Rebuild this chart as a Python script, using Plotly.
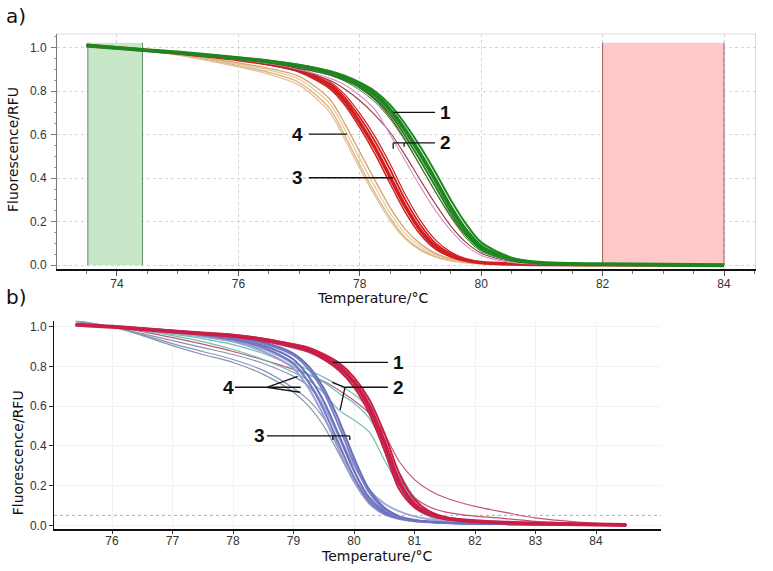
import plotly.graph_objects as go

# ---------------- Panel a data ----------------
T_A = [73.5, 74.4, 75.0, 76.0, 76.5, 77.0, 77.5, 77.75, 78.0, 78.25, 78.5, 78.75,
       79.0, 79.25, 79.5, 79.75, 80.0, 80.5, 81.0, 82.0, 84.0]

green_1 = [1.010, 0.990, 0.978, 0.952, 0.937, 0.917, 0.887, 0.863, 0.830, 0.785, 0.715, 0.620, 0.510, 0.390, 0.265, 0.160, 0.085, 0.028, 0.010, 0.004, 0.000]
green_2 = [1.010, 0.990, 0.979, 0.955, 0.940, 0.921, 0.893, 0.871, 0.840, 0.800, 0.737, 0.648, 0.543, 0.425, 0.300, 0.190, 0.105, 0.035, 0.012, 0.004, 0.000]
green_3 = [1.010, 0.990, 0.977, 0.950, 0.934, 0.913, 0.881, 0.855, 0.818, 0.768, 0.693, 0.593, 0.480, 0.360, 0.240, 0.140, 0.072, 0.024, 0.009, 0.004, 0.000]
green_4 = [1.010, 0.990, 0.977, 0.948, 0.931, 0.908, 0.874, 0.846, 0.805, 0.750, 0.672, 0.570, 0.455, 0.335, 0.220, 0.125, 0.063, 0.021, 0.008, 0.003, 0.000]

red_1 = [1.010, 0.990, 0.975, 0.945, 0.925, 0.895, 0.825, 0.755, 0.655, 0.540, 0.405, 0.270, 0.160, 0.085, 0.045, 0.022, 0.012, 0.005, 0.003, 0.002, 0.000]
red_2 = [1.010, 0.990, 0.976, 0.947, 0.928, 0.900, 0.836, 0.772, 0.680, 0.570, 0.440, 0.300, 0.185, 0.100, 0.052, 0.025, 0.013, 0.005, 0.003, 0.002, 0.000]
red_3 = [1.010, 0.990, 0.974, 0.943, 0.921, 0.888, 0.812, 0.738, 0.632, 0.512, 0.375, 0.243, 0.140, 0.073, 0.038, 0.019, 0.010, 0.004, 0.003, 0.002, 0.000]
red_4 = [1.010, 0.990, 0.976, 0.948, 0.930, 0.903, 0.845, 0.785, 0.698, 0.592, 0.465, 0.325, 0.205, 0.115, 0.060, 0.030, 0.015, 0.006, 0.003, 0.002, 0.000]

tan_1 = [1.010, 0.990, 0.970, 0.925, 0.897, 0.855, 0.745, 0.625, 0.490, 0.360, 0.240, 0.145, 0.085, 0.047, 0.026, 0.014, 0.008, 0.004, 0.002, 0.001, 0.000]
tan_2 = [1.010, 0.990, 0.968, 0.918, 0.887, 0.840, 0.722, 0.598, 0.462, 0.333, 0.218, 0.128, 0.073, 0.040, 0.022, 0.012, 0.007, 0.003, 0.002, 0.001, 0.000]
tan_3 = [1.010, 0.990, 0.972, 0.930, 0.905, 0.868, 0.765, 0.652, 0.520, 0.390, 0.265, 0.165, 0.098, 0.054, 0.030, 0.016, 0.009, 0.004, 0.002, 0.001, 0.000]
tan_4 = [1.010, 0.990, 0.966, 0.912, 0.878, 0.828, 0.705, 0.580, 0.445, 0.318, 0.205, 0.120, 0.068, 0.037, 0.020, 0.011, 0.006, 0.003, 0.002, 0.001, 0.000]

brown_1 = [1.010, 0.990, 0.977, 0.948, 0.930, 0.905, 0.875, 0.850, 0.815, 0.760, 0.680, 0.575, 0.455, 0.335, 0.225, 0.135, 0.072, 0.023, 0.008, 0.003, 0.000]
brown_2 = [1.010, 0.990, 0.976, 0.944, 0.925, 0.895, 0.850, 0.810, 0.757, 0.690, 0.610, 0.505, 0.390, 0.280, 0.180, 0.105, 0.055, 0.017, 0.006, 0.002, 0.000]
pink_1 = [1.010, 0.990, 0.976, 0.946, 0.927, 0.900, 0.860, 0.830, 0.780, 0.715, 0.600, 0.480, 0.360, 0.250, 0.160, 0.090, 0.045, 0.013, 0.005, 0.002, 0.000]

# ---------------- Panel b data ----------------
T_B = [75.4, 76.0, 76.5, 77.0, 77.5, 78.0, 78.5, 79.0, 79.25, 79.5, 79.75, 80.0,
       80.25, 80.5, 80.75, 81.0, 81.25, 81.5, 82.0, 82.5, 83.0, 84.0, 84.5]

crimson_1 = [1.010, 1.000, 0.988, 0.976, 0.966, 0.955, 0.935, 0.905, 0.885, 0.850, 0.800, 0.720, 0.600, 0.420, 0.215, 0.105, 0.058, 0.036, 0.020, 0.013, 0.009, 0.004, 0.002]
crimson_2 = [1.010, 1.000, 0.989, 0.978, 0.968, 0.958, 0.940, 0.912, 0.894, 0.862, 0.818, 0.745, 0.635, 0.465, 0.260, 0.130, 0.070, 0.042, 0.022, 0.014, 0.009, 0.004, 0.002]
crimson_3 = [1.010, 1.000, 0.987, 0.974, 0.963, 0.951, 0.930, 0.898, 0.876, 0.838, 0.782, 0.695, 0.565, 0.380, 0.180, 0.090, 0.050, 0.032, 0.018, 0.012, 0.008, 0.004, 0.002]
mauve_1 = [1.010, 1.000, 0.975, 0.945, 0.912, 0.875, 0.833, 0.785, 0.758, 0.725, 0.680, 0.628, 0.565, 0.460, 0.320, 0.230, 0.175, 0.140, 0.095, 0.065, 0.037, 0.010, 0.005]
mauve_2 = [1.010, 1.000, 0.986, 0.972, 0.960, 0.948, 0.926, 0.892, 0.870, 0.832, 0.778, 0.695, 0.575, 0.405, 0.240, 0.140, 0.092, 0.068, 0.046, 0.034, 0.020, 0.006, 0.003]

teal_1 = [1.010, 1.000, 0.985, 0.968, 0.950, 0.925, 0.885, 0.820, 0.782, 0.745, 0.705, 0.660, 0.585, 0.420, 0.265, 0.140, 0.060, 0.030, 0.015, 0.010, 0.007, 0.004, 0.002]
teal_2 = [1.010, 1.000, 0.980, 0.955, 0.925, 0.885, 0.835, 0.770, 0.730, 0.665, 0.580, 0.530, 0.470, 0.330, 0.195, 0.090, 0.042, 0.025, 0.013, 0.009, 0.006, 0.003, 0.002]
teal_3 = [1.010, 1.000, 0.983, 0.962, 0.940, 0.910, 0.865, 0.800, 0.760, 0.720, 0.665, 0.615, 0.540, 0.400, 0.240, 0.115, 0.050, 0.028, 0.014, 0.009, 0.006, 0.003, 0.002]

blue_1 = [1.010, 1.000, 0.990, 0.978, 0.962, 0.940, 0.905, 0.835, 0.750, 0.625, 0.455, 0.275, 0.140, 0.070, 0.038, 0.024, 0.017, 0.013, 0.008, 0.006, 0.004, 0.002, 0.001]
blue_2 = [1.010, 1.000, 0.991, 0.980, 0.965, 0.945, 0.915, 0.855, 0.785, 0.670, 0.500, 0.315, 0.165, 0.080, 0.042, 0.026, 0.018, 0.013, 0.008, 0.006, 0.004, 0.002, 0.001]
blue_3 = [1.010, 1.000, 0.989, 0.976, 0.958, 0.935, 0.895, 0.815, 0.720, 0.580, 0.410, 0.240, 0.120, 0.060, 0.034, 0.022, 0.016, 0.012, 0.008, 0.006, 0.004, 0.002, 0.001]
blue_4 = [1.010, 1.000, 0.988, 0.973, 0.954, 0.930, 0.890, 0.810, 0.720, 0.600, 0.450, 0.300, 0.180, 0.110, 0.070, 0.045, 0.030, 0.022, 0.014, 0.010, 0.007, 0.004, 0.002]
blue_5 = [1.010, 1.000, 0.987, 0.971, 0.950, 0.925, 0.875, 0.790, 0.690, 0.550, 0.380, 0.220, 0.110, 0.055, 0.032, 0.021, 0.015, 0.012, 0.008, 0.006, 0.004, 0.002, 0.001]
blue_6 = [1.010, 1.000, 0.991, 0.981, 0.967, 0.948, 0.922, 0.865, 0.800, 0.690, 0.530, 0.340, 0.180, 0.090, 0.045, 0.027, 0.019, 0.014, 0.009, 0.006, 0.004, 0.002, 0.001]

grey_1 = [1.030, 1.000, 0.965, 0.930, 0.895, 0.860, 0.815, 0.750, 0.700, 0.600, 0.440, 0.270, 0.140, 0.070, 0.038, 0.024, 0.017, 0.013, 0.008, 0.006, 0.004, 0.002, 0.001]
grey_2 = [1.025, 1.000, 0.960, 0.915, 0.875, 0.835, 0.780, 0.690, 0.630, 0.540, 0.400, 0.245, 0.130, 0.065, 0.035, 0.022, 0.016, 0.012, 0.008, 0.006, 0.004, 0.002, 0.001]
grey_3 = [1.030, 1.000, 0.955, 0.905, 0.860, 0.820, 0.760, 0.670, 0.600, 0.500, 0.360, 0.220, 0.115, 0.060, 0.032, 0.020, 0.015, 0.011, 0.007, 0.005, 0.004, 0.002, 0.001]

# tick labels
XTICKS_A = [74, 76, 78, 80, 82, 84]
XTICKS_B = [76, 77, 78, 79, 80, 81, 82, 83, 84]
YTICKS = [0.0, 0.2, 0.4, 0.6, 0.8, 1.0]

fig = go.Figure()


def add(x, y, color, width, xa, ya):
    fig.add_trace(go.Scatter(x=x, y=y, mode="lines", xaxis=xa, yaxis=ya,
                             line=dict(color=color, width=width, shape="spline", smoothing=0.8),
                             hoverinfo="skip", showlegend=False))


# panel a traces
for s, c in [(tan_4, "#e3c49a"), (tan_2, "#d9b27f"), (tan_1, "#e6c79e"), (tan_3, "#d4a46c")]:
    add(T_A, s, c, 1.3, "x", "y")
for s, w in [(red_3, 1.5), (red_1, 3.5), (red_2, 1.8), (red_4, 1.2)]:
    add(T_A, s, "#d11f1f", w, "x", "y")
add(T_A, brown_2, "#9a3b3b", 1.1, "x", "y")
add(T_A, pink_1, "#d58fd0", 1.1, "x", "y")
add(T_A, brown_1, "#7a3030", 1.1, "x", "y")
add(T_A, green_4, "#2e8b2e", 1.0, "x", "y")
for s, w in [(green_3, 2.0), (green_2, 2.0), (green_1, 4.0)]:
    add(T_A, s, "#1f861f", w, "x", "y")

# panel b traces
for s in [grey_3, grey_2, grey_1]:
    add(T_B, s, "#8794b2", 1.2, "x2", "y2")
add(T_B, mauve_1, "#c0587a", 1.2, "x2", "y2")
for s in [teal_2, teal_3, teal_1]:
    add(T_B, s, "#6fbfae", 1.2, "x2", "y2")
for s, c in [(blue_4, "#a3a8d8"), (blue_5, "#9a9fd4"), (blue_3, "#7378c2"),
             (blue_1, "#6b70bd"), (blue_2, "#7b80c6"), (blue_6, "#6a6fbb")]:
    add(T_B, s, c, 2.0, "x2", "y2")
add(T_B, mauve_2, "#c2507a", 1.2, "x2", "y2")
for s, w in [(crimson_3, 2.0), (crimson_2, 2.0), (crimson_1, 4.0)]:
    add(T_B, s, "#c81e48", w, "x2", "y2")

W, H = 773, 571
tickfont = dict(family="Liberation Sans, Arial, sans-serif", size=12, color="#333333")

fig.update_layout(
    width=W, height=H, margin=dict(l=0, r=0, t=0, b=0),
    paper_bgcolor="white", plot_bgcolor="white", showlegend=False,
    xaxis=dict(domain=[57 / W, 756 / W], range=[73.012, 84.527], anchor="y",
               tickvals=XTICKS_A, ticktext=[str(v) for v in XTICKS_A],
               showgrid=True, gridcolor="#d4d4d4", griddash="dot", gridwidth=1,
               showline=True, linecolor="#111111", linewidth=2,
               ticks="outside", ticklen=5, tickcolor="#555555", tickfont=tickfont,
               ticklabelstandoff=-3,
               minor=dict(dtick=0.5, tick0=74, ticks="outside", ticklen=3, tickcolor="#777777", showgrid=False),
               zeroline=False),
    yaxis=dict(domain=[(H - 270) / H, (H - 33) / H], range=[-0.018, 1.064], anchor="x",
               tickvals=YTICKS, tickformat=".1f",
               showgrid=True, gridcolor="#d4d4d4", griddash="dot", gridwidth=1,
               showline=True, linecolor="#777777", linewidth=1,
               ticks="outside", ticklen=5, tickcolor="#777777", tickfont=tickfont,
               ticklabelstandoff=2,
               minor=dict(dtick=0.05, ticks="outside", ticklen=2, tickcolor="#999999", showgrid=False),
               zeroline=False),
    xaxis2=dict(domain=[54 / W, 661 / W], range=[75.041, 85.074], anchor="y2",
                tickvals=XTICKS_B, ticktext=[str(v) for v in XTICKS_B],
                showgrid=True, gridcolor="#f1f1f1", gridwidth=1,
                showline=True, linecolor="#111111", linewidth=2,
                ticks="outside", ticklen=3, tickcolor="#333333", tickfont=tickfont,
                ticklabelstandoff=-4,
                zeroline=False),
    yaxis2=dict(domain=[(H - 532) / H, (H - 322) / H], range=[-0.02, 1.03], anchor="x2",
                tickvals=YTICKS, tickformat=".1f",
                showgrid=True, gridcolor="#f1f1f1", gridwidth=1,
                showline=True, linecolor="#111111", linewidth=1,
                ticks="outside", ticklen=4, tickcolor="#333333", tickfont=tickfont,
                zeroline=False),
)

shapes = []
# melt-region rectangles (panel a)
shapes.append(dict(type="rect", xref="x", yref="y", x0=73.52, x1=74.42, y0=0, y1=1.023,
                   fillcolor="#c8e6c8", line=dict(width=0), layer="between"))
shapes.append(dict(type="rect", xref="x", yref="y", x0=82.0, x1=84.0, y0=0, y1=1.023,
                   fillcolor="#ffc9c9", line=dict(width=0), layer="between"))
for xv, col in [(73.52, "#5f8f5f"), (74.42, "#5f8f5f"), (82.0, "#9a6060"), (84.0, "#9a6060")]:
    shapes.append(dict(type="line", xref="x", yref="y", x0=xv, x1=xv, y0=0, y1=1.023,
                       line=dict(color=col, width=1), layer="between"))
# frame top/right panel a
shapes.append(dict(type="line", xref="x", yref="y", x0=73.012, x1=84.527, y0=1.064, y1=1.064,
                   line=dict(color="#b5b5b5", width=1)))
shapes.append(dict(type="line", xref="x", yref="y", x0=84.527, x1=84.527, y0=-0.018, y1=1.064,
                   line=dict(color="#b5b5b5", width=1)))
# threshold panel b
shapes.append(dict(type="line", xref="x2", yref="y2", x0=75.041, x1=85.074, y0=0.05, y1=0.05,
                   line=dict(color="#a9a9c0", width=1, dash="dot"), layer="below"))

# pointer lines, panel a
pa = dict(color="#111111", width=1.3)
for (x0, y0, x1, y1) in [(78.55, 0.703, 79.24, 0.703),
                         (78.55, 0.562, 79.24, 0.562), (78.55, 0.562, 78.55, 0.535), (78.73, 0.562, 78.73, 0.545),
                         (77.16, 0.603, 77.79, 0.603),
                         (77.16, 0.402, 78.55, 0.402)]:
    shapes.append(dict(type="line", xref="x", yref="y", x0=x0, y0=y0, x1=x1, y1=y1, line=pa))
# pointer lines, panel b
for (x0, y0, x1, y1) in [(79.65, 0.82, 80.56, 0.82),
                         (79.85, 0.695, 80.56, 0.695), (79.64, 0.72, 79.85, 0.695), (79.85, 0.695, 79.77, 0.58),
                         (78.03, 0.695, 78.56, 0.695), (78.56, 0.695, 79.07, 0.75), (78.56, 0.695, 79.12, 0.695),
                         (78.56, 0.695, 79.11, 0.67),
                         (78.56, 0.45, 79.93, 0.45), (79.65, 0.45, 79.65, 0.43), (79.93, 0.45, 79.93, 0.43)]:
    shapes.append(dict(type="line", xref="x2", yref="y2", x0=x0, y0=y0, x1=x1, y1=y1, line=pa))
fig.update_layout(shapes=shapes)

numfont = dict(family="Liberation Sans, Arial, sans-serif", size=19, color="#111111")
titlefont = dict(family="DejaVu Sans, Verdana, sans-serif", size=14, color="#111111")
ann = []
for txt, x, y, xr, yr in [("1", 79.42, 0.703, "x", "y"), ("2", 79.42, 0.562, "x", "y"),
                          ("4", 76.98, 0.603, "x", "y"), ("3", 76.98, 0.402, "x", "y"),
                          ("1", 80.73, 0.82, "x2", "y2"), ("2", 80.73, 0.695, "x2", "y2"),
                          ("4", 77.92, 0.695, "x2", "y2"), ("3", 78.44, 0.45, "x2", "y2")]:
    ann.append(dict(text="<b>%s</b>" % txt, x=x, y=y, xref=xr, yref=yr, showarrow=False,
                    font=numfont, xanchor="center", yanchor="middle"))


def px(xp):
    return xp / W


def py(yp):
    return (H - yp) / H


ann.append(dict(text="Temperature/°C", x=px(372), y=py(299), xref="paper", yref="paper", showarrow=False,
                font=titlefont, xanchor="center", yanchor="middle"))
ann.append(dict(text="Temperature/°C", x=px(376), y=py(559), xref="paper", yref="paper", showarrow=False,
                font=titlefont, xanchor="center", yanchor="middle"))
ann.append(dict(text="Fluorescence/RFU", x=px(13), y=py(150), xref="paper", yref="paper", showarrow=False,
                font=titlefont, xanchor="center", yanchor="middle", textangle=-90))
ann.append(dict(text="Fluorescence/RFU", x=px(17.5), y=py(455), xref="paper", yref="paper", showarrow=False,
                font=titlefont, xanchor="center", yanchor="middle", textangle=-90))
letterfont = dict(family="DejaVu Sans, Verdana, sans-serif", size=20, color="#111111")
ann.append(dict(text="a)", x=px(4), y=py(15), xref="paper", yref="paper", showarrow=False,
                font=letterfont, xanchor="left", yanchor="middle"))
ann.append(dict(text="b)", x=px(4), y=py(298), xref="paper", yref="paper", showarrow=False,
                font=letterfont, xanchor="left", yanchor="middle"))
fig.update_layout(annotations=ann)

fig.write_html("out.html", config={"displayModeBar": False},
               post_script="document.body.style.margin='0';")
